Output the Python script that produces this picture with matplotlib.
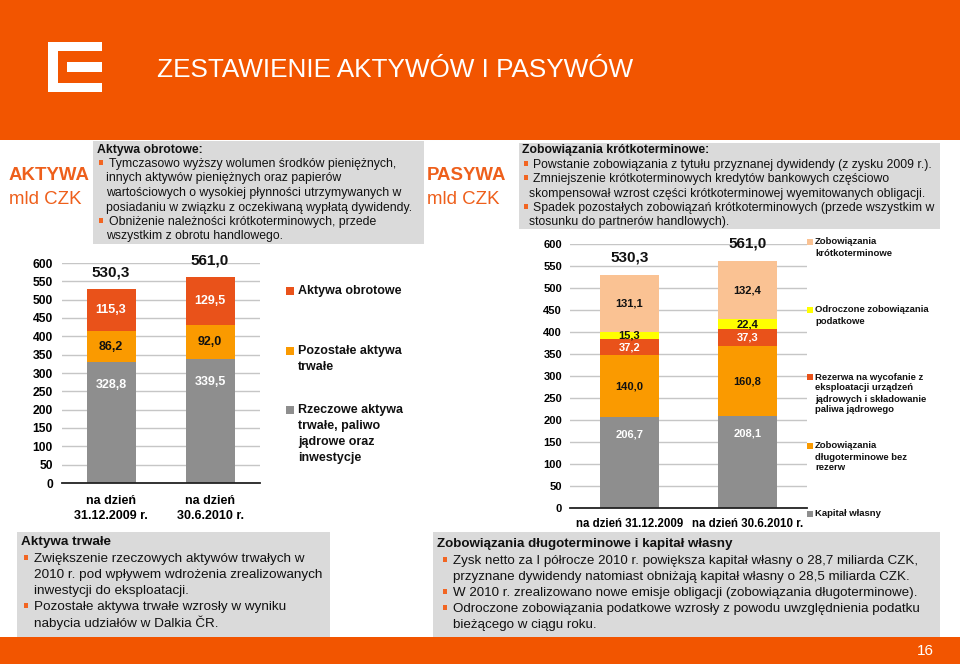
import matplotlib
matplotlib.use("Agg")
import matplotlib.pyplot as plt
from matplotlib.patches import Rectangle

plt.rcParams['font.family'] = ['Liberation Sans', 'DejaVu Sans']

W, H = 960, 664

ORANGE = '#F25500'
TXT_ORANGE = '#EE5F1B'
BOX_GRAY = '#DADADA'
DARK_OR = '#E9521A'
MID_OR = '#FA9A00'
GRAY = '#8E8E8E'
PEACH = '#FAC293'
YELLOW = '#FFFF00'

# --- dane: aktywa (mld CZK)
aktywa_dates = ['na dzień\n31.12.2009 r.', 'na dzień\n30.6.2010 r.']
rzeczowe = [328.8, 339.5]
pozostale = [86.2, 92.0]
obrotowe = [115.3, 129.5]
aktywa_total = [530.3, 561.0]
aktywa_labels = ['Rzeczowe aktywa\ntrwałe, paliwo\njądrowe oraz\ninwestycje',
                 'Pozostałe aktywa\ntrwałe',
                 'Aktywa obrotowe']

# --- dane: pasywa (mld CZK)
pasywa_dates = ['na dzień 31.12.2009', 'na dzień 30.6.2010 r.']
kapital = [206.7, 208.1]
dlugo = [140.0, 160.8]
rezerwa = [37.2, 37.3]
odroczone = [15.3, 22.4]
krotko = [131.1, 132.4]
pasywa_total = [530.3, 561.0]
pasywa_labels = ['Kapitał własny',
                 'Zobowiązania\ndługoterminowe bez\nrezerw',
                 'Rezerwa na wycofanie z\neksploatacji urządzeń\njądrowych i składowanie\npaliwa jądrowego',
                 'Odroczone zobowiązania\npodatkowe',
                 'Zobowiązania\nkrótkoterminowe']

fig = plt.figure(figsize=(W / 100, H / 100), dpi=100)
bg = fig.add_axes([0, 0, 1, 1])
bg.set_xlim(0, W)
bg.set_ylim(H, 0)
bg.axis('off')


def rect(x0, y0, x1, y1, color, z=0):
    bg.add_patch(Rectangle((x0, y0), x1 - x0, y1 - y0, color=color, lw=0, zorder=z))


# naglowek i stopka
rect(0, 0, W, 140, ORANGE)
rect(0, 637, W, H, ORANGE)
for r in [(48, 42, 58, 92), (48, 42, 102, 51), (48, 83, 102, 92), (67, 62, 102, 72)]:
    rect(*r, 'white', 1)
bg.text(157, 70, 'ZESTAWIENIE AKTYWÓW I PASYWÓW', color='white', fontsize=18.8,
        va='center', ha='left')
bg.text(925, 651, '16', color='white', fontsize=11, va='center', ha='center')

bg.text(9, 176, 'AKTYWA', color=TXT_ORANGE, fontsize=13.4, fontweight='bold', va='center')
bg.text(9, 199, 'mld CZK', color=TXT_ORANGE, fontsize=13.4, va='center')
bg.text(427, 176, 'PASYWA', color=TXT_ORANGE, fontsize=13.4, fontweight='bold', va='center')
bg.text(427, 199, 'mld CZK', color=TXT_ORANGE, fontsize=13.4, va='center')


def text_box(box, title, tx, ty, lines, ys, bx, x_b, x_c, fs):
    rect(*box, BOX_GRAY)
    bg.text(tx, ty, title, fontsize=fs, fontweight='bold', va='center', color='#111111')
    for (b, s), y in zip(lines, ys):
        if b:
            rect(bx, y - 4, bx + 4, y + 1, '#F26522', 1)
        bg.text(x_b if b else x_c, y, s, fontsize=fs, va='center', color='#111111')


text_box((93, 141, 424, 244), 'Aktywa obrotowe:', 97, 150,
         [(1, 'Tymczasowo wyższy wolumen środków pieniężnych,'),
          (0, 'innych aktywów pieniężnych oraz papierów'),
          (0, 'wartościowych o wysokiej płynności utrzymywanych w'),
          (0, 'posiadaniu w związku z oczekiwaną wypłatą dywidendy.'),
          (1, 'Obniżenie należności krótkoterminowych, przede'),
          (0, 'wszystkim z obrotu handlowego.')],
         [164, 178.5, 193, 207.5, 222, 236.5], 99, 109, 106, 8.8)

text_box((519, 143, 940, 229), 'Zobowiązania krótkoterminowe:', 522, 150,
         [(1, 'Powstanie zobowiązania z tytułu przyznanej dywidendy (z zysku 2009 r.).'),
          (1, 'Zmniejszenie krótkoterminowych kredytów bankowych częściowo'),
          (0, 'skompensował wzrost części krótkoterminowej wyemitowanych obligacji.'),
          (1, 'Spadek pozostałych zobowiązań krótkoterminowych (przede wszystkim w'),
          (0, 'stosunku do partnerów handlowych).')],
         [165, 179, 193.5, 208, 222], 524, 533, 529, 8.8)

text_box((17, 532, 330, 637), 'Aktywa trwałe', 21, 542,
         [(1, 'Zwiększenie rzeczowych aktywów trwałych w'),
          (0, '2010 r. pod wpływem wdrożenia zrealizowanych'),
          (0, 'inwestycji do eksploatacji.'),
          (1, 'Pozostałe aktywa trwałe wzrosły w wyniku'),
          (0, 'nabycia udziałów w Dalkia ČR.')],
         [559, 575, 591, 607, 623], 24, 34, 34, 9.7)

text_box((433, 532, 940, 637), 'Zobowiązania długoterminowe i kapitał własny', 437, 544,
         [(1, 'Zysk netto za I półrocze 2010 r. powiększa kapitał własny o 28,7 miliarda CZK,'),
          (0, 'przyznane dywidendy natomiast obniżają kapitał własny o 28,5 miliarda CZK.'),
          (1, 'W 2010 r. zrealizowano nowe emisje obligacji (zobowiązania długoterminowe).'),
          (1, 'Odroczone zobowiązania podatkowe wzrosły z powodu uwzględnienia podatku'),
          (0, 'bieżącego w ciągu roku.')],
         [561, 577, 593, 609, 625], 443, 453, 453, 9.6)


def px_axes(x0, x1, ytop, ybot):
    return fig.add_axes([x0 / W, 1 - ybot / H, (x1 - x0) / W, (ybot - ytop) / H])


def fmt(v):
    return f'{v:.1f}'.replace('.', ',')


def stacked(ax, series, colors, tcolors, width, fs, totals, toff, tfs):
    base = [0.0, 0.0]
    for i, (vals, c, tc) in enumerate(zip(series, colors, tcolors)):
        ax.bar([0, 1], vals, width, bottom=base, color=c, zorder=2)
        for j, v in enumerate(vals):
            frac = 0.81 if i == 0 else 0.5
            ax.text(j, base[j] + v * frac, fmt(v), ha='center', va='center',
                    color=tc, fontsize=fs, fontweight='bold', zorder=3)
        base = [b + v for b, v in zip(base, vals)]
    for j, t in enumerate(totals):
        ax.text(j, t + toff, fmt(t), ha='center', va='center', fontsize=tfs,
                fontweight='bold', color='#111111')


def style(ax, xlim, dates, fs, xpad, ypad):
    ax.set_xlim(*xlim)
    ax.set_ylim(0, 600)
    ax.set_yticks(range(0, 601, 50))
    ax.grid(axis='y', color='#C6C6C6', lw=1, zorder=0)
    ax.set_axisbelow(True)
    for s in ['top', 'right', 'left']:
        ax.spines[s].set_visible(False)
    ax.spines['bottom'].set_color('#222222')
    ax.spines['bottom'].set_linewidth(1.3)
    ax.spines['bottom'].set_zorder(4)
    ax.set_xticks([0, 1])
    ax.set_xticklabels(dates, fontsize=fs, fontweight='bold', linespacing=1.3)
    ax.tick_params(axis='x', length=0, pad=xpad)
    ax.tick_params(axis='y', length=0, pad=ypad)
    for lab in ax.get_yticklabels():
        lab.set_fontweight('bold')
    ax.patch.set_alpha(0)


# wykres aktywa
ax1 = px_axes(62, 260, 263, 483)
stacked(ax1, [rzeczowe, pozostale, obrotowe], [GRAY, MID_OR, DARK_OR],
        ['white', '#111111', 'white'], 0.495, 9, aktywa_total, 45, 11)
style(ax1, (-0.495, 1.505), aktywa_dates, 9, 8.5, 6.5)
ax1.tick_params(axis='y', labelsize=8.7)

for (lab, c), y0 in zip(zip(aktywa_labels[::-1], [DARK_OR, MID_OR, GRAY]), [291, 351, 410]):
    rect(286, y0 - 4.5, 294, y0 + 3.5, c, 2)
    for k, line in enumerate(lab.split('\n')):
        bg.text(298, y0 + 16 * k, line, fontsize=9, fontweight='bold', va='center',
                color='#111111')

# wykres pasywa
ax2 = px_axes(570, 807, 244, 508)
stacked(ax2, [kapital, dlugo, rezerwa, odroczone, krotko],
        [GRAY, MID_OR, DARK_OR, YELLOW, PEACH],
        ['white', '#111111', 'white', '#111111', '#111111'], 0.5, 8, pasywa_total, 40, 11)
style(ax2, (-0.504, 1.504), pasywa_dates, 8.3, 7.5, 5.8)
ax2.tick_params(axis='y', labelsize=8)

for (lab, c), y0 in zip(zip(pasywa_labels[::-1], [PEACH, YELLOW, DARK_OR, MID_OR, GRAY]),
                        [242, 310, 377, 446, 514]):
    rect(807, y0 - 3.5, 813, y0 + 2.5, c, 2)
    for k, line in enumerate(lab.split('\n')):
        bg.text(815, y0 + 11 * k, line, fontsize=6.8, fontweight='bold', va='center',
                color='#111111')

fig.savefig('out.png', dpi=100)
